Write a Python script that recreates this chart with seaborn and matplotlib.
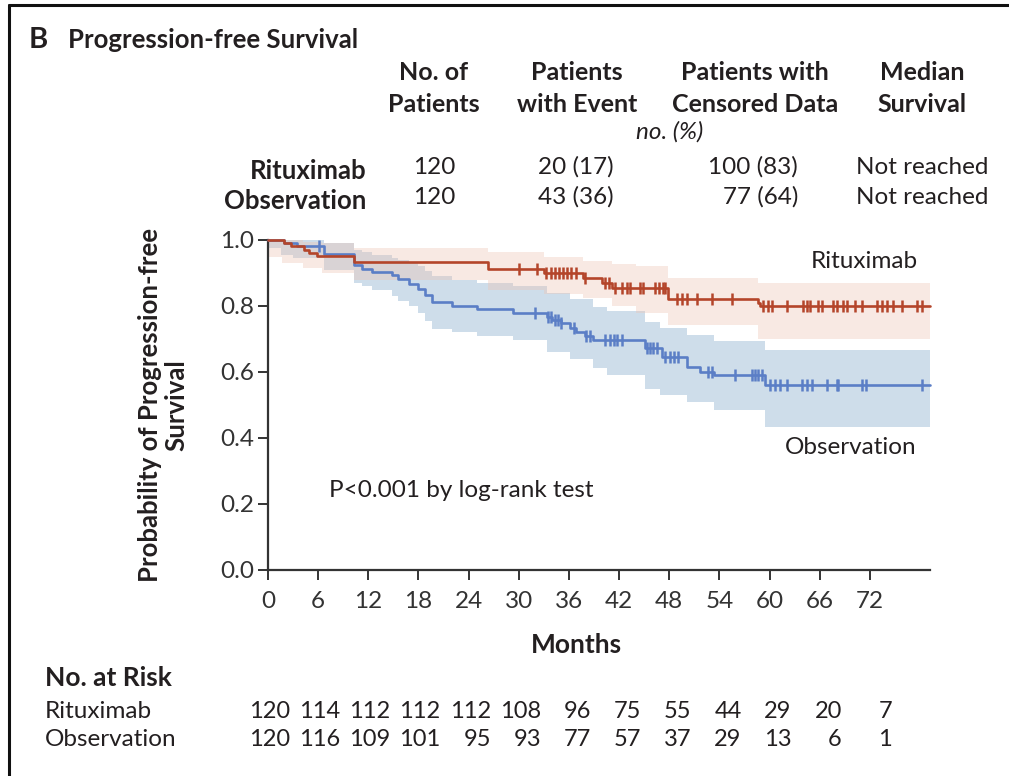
import numpy as np
import pandas as pd
import matplotlib
matplotlib.use("Agg")
import matplotlib.pyplot as plt
import matplotlib.transforms as mtransforms
from matplotlib.lines import Line2D
import seaborn as sns

# ---------------- data ----------------
arms = ["Rituximab", "Observation"]
end_month = 79.2

# Kaplan-Meier steps (month, survival probability)
rit_time = [0, 1.9, 2.7, 4.3, 4.9, 5.9, 10.3, 26.3, 33.0, 37.7, 40.0, 41.1, 47.8, 58.6, 58.9]
rit_surv = [1.0, 0.990, 0.982, 0.970, 0.962, 0.950, 0.934, 0.912, 0.900, 0.885, 0.870, 0.856, 0.822, 0.810, 0.800]

obs_time = [0, 1.9, 3.5, 6.7, 10.3, 11.2, 12.4, 14.8, 15.6, 16.9, 18.0, 18.8, 19.6, 22.0, 25.0,
            29.3, 33.4, 34.0, 35.0, 36.1, 36.9, 37.9, 38.9, 45.1, 47.1, 50.1, 51.7, 53.3, 59.4]
obs_surv = [1.0, 0.992, 0.983, 0.958, 0.924, 0.912, 0.903, 0.893, 0.882, 0.867, 0.852, 0.833, 0.812, 0.800, 0.790,
            0.779, 0.768, 0.758, 0.748, 0.733, 0.720, 0.710, 0.697, 0.673, 0.645, 0.615, 0.600, 0.591, 0.560]

# censored observations (months)
rit_censor = [30.0, 32.2, 33.3, 33.8, 34.3, 34.8, 35.3, 35.8, 36.3, 36.8, 37.9,
              40.3, 40.8, 41.5, 42.4, 42.9, 43.3, 44.5, 44.9, 46.3, 46.8, 47.2, 47.5,
              48.9, 49.5, 50.1, 51.3, 53.1, 55.5,
              59.2, 59.8, 60.3, 62.1, 64.0, 64.5, 64.8, 65.8, 66.3, 67.6, 68.1, 68.8,
              69.3, 70.2, 71.1, 72.8, 73.4, 74.0, 74.8, 75.8, 77.7, 78.2]
obs_censor = [6.1, 31.9, 33.5, 33.9, 34.3, 34.7, 35.1, 36.6, 38.1, 38.5,
              40.3, 40.9, 41.4, 41.8, 42.3, 45.3, 45.7, 46.1, 46.5, 47.5, 48.1, 48.6, 49.1,
              52.6, 53.1, 55.9, 57.9, 58.3, 58.6, 59.1,
              60.0, 60.6, 61.2, 62.1, 63.9, 64.5, 65.1, 66.9, 68.1, 68.2, 71.1, 71.5, 78.3]

# 95% confidence bands (month, lower, upper)
rit_band_time = [0, 1.7, 4.2, 6.5, 10.3, 26.3, 33.0, 37.7, 41.1, 44.0, 47.8, 58.6]
rit_band_lo = [0.950, 0.930, 0.915, 0.900, 0.880, 0.850, 0.835, 0.825, 0.800, 0.780, 0.742, 0.700]
rit_band_hi = [1.000, 1.000, 0.995, 0.990, 0.975, 0.963, 0.950, 0.935, 0.928, 0.920, 0.885, 0.870]

obs_band_time = [0, 1.5, 3.0, 6.7, 10.3, 11.2, 12.4, 14.8, 15.6, 16.9, 18.0, 18.8, 19.6, 22.0, 25.0,
                 29.3, 33.4, 36.1, 38.9, 40.5, 45.1, 46.9, 50.1, 53.3, 59.4]
obs_band_lo = [0.975, 0.955, 0.945, 0.910, 0.870, 0.860, 0.848, 0.830, 0.815, 0.800, 0.780, 0.755, 0.730, 0.720, 0.710,
               0.697, 0.660, 0.640, 0.612, 0.590, 0.550, 0.530, 0.509, 0.485, 0.433]
obs_band_hi = [1.000, 1.000, 1.000, 0.990, 0.970, 0.965, 0.955, 0.945, 0.940, 0.930, 0.920, 0.905, 0.890, 0.880, 0.870,
               0.860, 0.840, 0.820, 0.797, 0.785, 0.752, 0.733, 0.712, 0.695, 0.667]

# summary table
n_patients = [120, 120]
with_event = ["20 (17)", "43 (36)"]
censored = ["100 (83)", "77 (64)"]
median_surv = ["Not reached", "Not reached"]

# number at risk
risk_months = [0, 6, 12, 18, 24, 30, 36, 42, 48, 54, 60, 66, 72]
risk_rit = [120, 114, 112, 112, 112, 108, 96, 75, 55, 44, 29, 20, 7]
risk_obs = [120, 116, 109, 101, 95, 93, 77, 57, 37, 29, 13, 6, 1]

# ---------------- style ----------------
sns.set_theme(style="ticks")
FONT = "Lato"
plt.rcParams["font.family"] = [FONT, "DejaVu Sans"]
TXT = "#231f20"
RED, BLUE = "#b4452a", "#5b7ec6"
RED_BAND, BLUE_BAND = "#eec4b2", "#9ab8d4"

SZ_HEAD = 18      # bold table headers
SZ_VAL = 17.5     # regular text
SZ_TICK = 17.5

W, H = 1009, 776
fig = plt.figure(figsize=(W / 100, H / 100), dpi=100)


def fx(px):
    return px / W


def fy(py):
    return 1 - py / H


ax = fig.add_axes([fx(268), fy(570), fx(930) - fx(268), fy(240) - fy(570)])

# long-form frame for seaborn
curves = []
for arm, t, s in [("Rituximab", rit_time, rit_surv), ("Observation", obs_time, obs_surv)]:
    tt = list(t) + [end_month]
    ss = list(s) + [s[-1]]
    curves.append(pd.DataFrame({"month": tt, "surv": ss, "arm": arm}))
curves = pd.concat(curves, ignore_index=True)

# confidence bands
for bt, lo, hi, col, a in [(obs_band_time, obs_band_lo, obs_band_hi, BLUE_BAND, 0.48),
                           (rit_band_time, rit_band_lo, rit_band_hi, RED_BAND, 0.36)]:
    bt = list(bt) + [end_month]
    lo = list(lo) + [lo[-1]]
    hi = list(hi) + [hi[-1]]
    ax.fill_between(bt, lo, hi, step="post", color=col, alpha=a, linewidth=0, zorder=1)

sns.lineplot(data=curves, x="month", y="surv", hue="arm", hue_order=["Observation", "Rituximab"],
             palette={"Rituximab": RED, "Observation": BLUE}, drawstyle="steps-post",
             estimator=None, sort=False, linewidth=1.9, legend=False, ax=ax, zorder=3)
for ln in ax.lines:
    ln.set_clip_on(False)


def surv_at(times, surv, x):
    idx = np.searchsorted(np.asarray(times), np.asarray(x), side="right") - 1
    return np.asarray(surv)[idx]


for cens, t, s, col in [(obs_censor, obs_time, obs_surv, BLUE), (rit_censor, rit_time, rit_surv, RED)]:
    ax.plot(cens, surv_at(t, s, cens), linestyle="none", marker="|", markersize=9,
            markeredgewidth=1.8, color=col, zorder=4, clip_on=False)

ax.set_xlim(0, end_month)
ax.set_ylim(0, 1.0)
ax.set_xticks(risk_months)
ax.set_yticks([0, 0.2, 0.4, 0.6, 0.8, 1.0])
ax.set_yticklabels(["0.0", "0.2", "0.4", "0.6", "0.8", "1.0"])
sns.despine(ax=ax)
for sp in ["left", "bottom"]:
    ax.spines[sp].set_linewidth(1.6)
    ax.spines[sp].set_color("#333333")
ax.tick_params(axis="both", direction="out", length=7, width=1.4, color="#333333",
               labelsize=SZ_TICK, labelcolor="#333333")
ax.tick_params(axis="x", pad=8)
ax.tick_params(axis="y", pad=3)
for lab in ax.get_xticklabels() + ax.get_yticklabels():
    lab.set_fontfamily(FONT)

ax.set_xlabel("Months", fontsize=19, fontweight="bold", color=TXT)
ax.xaxis.set_label_coords((576 - 268) / 662, (570 - 645) / 330)
ax.xaxis.label.set_va("center")
ax.set_ylabel("Probability of Progression-free\nSurvival", fontsize=18.5, fontweight="bold",
              color=TXT, linespacing=1.12)
ax.yaxis.set_label_coords((163 - 268) / 662, 0.5)
ax.yaxis.label.set_va("center")

# in-plot annotations
ax.text((918 - 268) / 662, (570 - 262) / 330, "Rituximab", transform=ax.transAxes, ha="right",
        va="center", fontsize=SZ_VAL, color=TXT)
ax.text((916 - 268) / 662, (570 - 447) / 330, "Observation", transform=ax.transAxes,
        ha="right", va="center", fontsize=SZ_VAL, color=TXT)
ax.text((329 - 268) / 662, (570 - 490) / 330, "P<0.001 by log-rank test",
        transform=ax.transAxes, ha="left", va="center", fontsize=SZ_VAL, color=TXT)

# title
fig.text(fx(29), fy(40), "B", fontsize=21, fontweight="bold", color=TXT, va="center")
fig.text(fx(68), fy(40), "Progression-free Survival", fontsize=18.5, fontweight="bold",
         color=TXT, va="center")

# summary table
hdr = [(434, "No. of", "Patients"), (577, "Patients", "with Event"),
       (755, "Patients with", "Censored Data"), (922, "Median", "Survival")]
for x, l1, l2 in hdr:
    fig.text(fx(x), fy(73), l1, ha="center", va="center", fontsize=SZ_HEAD, fontweight="bold", color=TXT)
    fig.text(fx(x), fy(104), l2, ha="center", va="center", fontsize=SZ_HEAD, fontweight="bold", color=TXT)
fig.text(fx(670), fy(132), "no. (%)", ha="center", va="center", fontsize=SZ_VAL,
         style="italic", color=TXT)
for i, y in enumerate([167, 197]):
    fig.text(fx(366), fy(y + 4), arms[i], ha="right", va="center", fontsize=18.5,
             fontweight="bold", color=TXT)
    fig.text(fx(434), fy(y), str(n_patients[i]), ha="center", va="center", fontsize=SZ_VAL, color=TXT)
    fig.text(fx(614), fy(y), with_event[i], ha="right", va="center", fontsize=SZ_VAL, color=TXT)
    fig.text(fx(798), fy(y), censored[i], ha="right", va="center", fontsize=SZ_VAL, color=TXT)
    fig.text(fx(922), fy(y), median_surv[i], ha="center", va="center", fontsize=SZ_VAL, color=TXT)

# number at risk
fig.text(fx(45), fy(678), "No. at Risk", ha="left", va="center", fontsize=19,
         fontweight="bold", color=TXT)
blend = mtransforms.blended_transform_factory(ax.transData, fig.transFigure)
for label, counts, y in [("Rituximab", risk_rit, 711), ("Observation", risk_obs, 740)]:
    fig.text(fx(45), fy(y), label, ha="left", va="center", fontsize=SZ_VAL, color=TXT)
    for m, c in zip(risk_months, counts):
        ax.text(m + 2.65, fy(y), str(c), transform=blend, ha="right", va="center",
                fontsize=17, color=TXT, clip_on=False)

# panel frame (top and left edges)
fig.add_artist(Line2D([fx(9), fx(9)], [0, fy(5)], color="#111111", linewidth=2.2))
fig.add_artist(Line2D([fx(9), 1], [fy(5), fy(5)], color="#111111", linewidth=2.2))

fig.savefig("out.png", dpi=100)
